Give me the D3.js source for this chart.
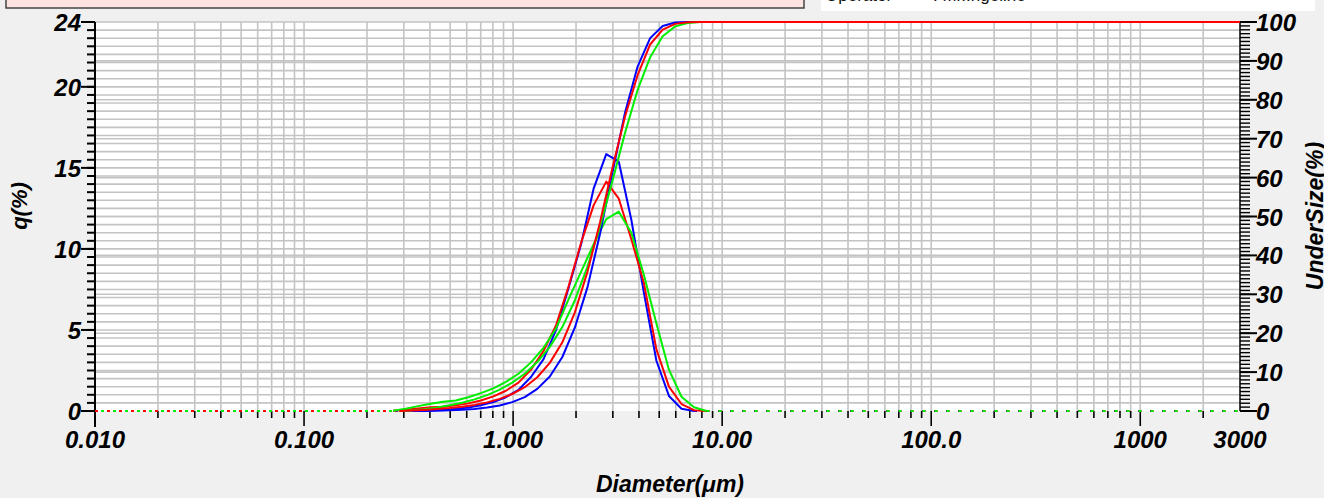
<!DOCTYPE html>
<html>
<head>
<meta charset="utf-8">
<script src="https://cdn.jsdelivr.net/npm/d3@7"></script>
<style>
  html, body { margin: 0; padding: 0; background: #f0f0f0; }
  svg { display: block; }
  text { font-family: "Liberation Sans", Arial, Helvetica, sans-serif; }
</style>
</head>
<body>
<svg id="chart" width="1324" height="498"></svg>
<script>
// ---- data ----
// bin centre diameters (µm) for the frequency curves q(%)
const diameters = [0.2321, 0.2665, 0.3060, 0.3513, 0.4034, 0.4631, 0.5318, 0.6105, 0.7010, 0.8048,
  0.9240, 1.0609, 1.2180, 1.3984, 1.6056, 1.8434, 2.1164, 2.4299, 2.7898, 3.2030,
  3.6774, 4.2221, 4.8475, 5.5655, 6.3899, 7.3363, 8.4230, 9.6706];
// bin upper edges (µm) for the cumulative curves UnderSize(%)
const edges = [0.2487, 0.2856, 0.3279, 0.3764, 0.4322, 0.4962, 0.5698, 0.6542, 0.7511, 0.8624,
  0.9901, 1.1368, 1.3051, 1.4984, 1.7204, 1.9752, 2.2677, 2.6037, 2.9893, 3.4321,
  3.9404, 4.5240, 5.1942, 5.9635, 6.8468, 7.8608, 9.0253, 10.362];

const qBlue  = [null, null, 0, 0.03, 0.05, 0.09, 0.14, 0.22, 0.35, 0.55,
  0.85, 1.3, 2.1, 3.2, 5.0, 7.6, 10.3, 13.74, 15.85, 15.38,
  11.8, 7.3, 3.1, 0.93, 0.14, 0, null, null];
const qRed   = [null, 0.02, 0.08, 0.16, 0.23, 0.26, 0.35, 0.47, 0.65, 0.9,
  1.25, 1.75, 2.55, 3.7, 5.3, 7.7, 10.4, 12.7, 14.15, 13.1,
  10.6, 7.9, 3.8, 1.5, 0.43, 0.05, 0, null];
const qGreen = [null, 0.02, 0.14, 0.3, 0.45, 0.57, 0.65, 0.85, 1.1, 1.4,
  1.8, 2.3, 3.0, 3.9, 5.1, 6.9, 8.6, 10.3, 11.84, 12.3,
  11.0, 8.4, 5.4, 2.55, 0.88, 0.23, 0, null];

const cumBlue  = [null, null, 0, 0.03, 0.08, 0.17, 0.31, 0.53, 0.88, 1.43,
  2.28, 3.58, 5.68, 8.88, 13.88, 21.48, 31.78, 45.52, 61.37, 76.75,
  88.55, 95.85, 98.95, 99.88, 100, 100, 100, 100];
const cumRed   = [null, 0.02, 0.10, 0.26, 0.49, 0.75, 1.10, 1.57, 2.22, 3.12,
  4.37, 6.12, 8.67, 12.37, 17.67, 25.37, 35.77, 48.47, 62.62, 75.72,
  86.32, 94.22, 98.02, 99.52, 99.95, 100, 100, 100];
const cumGreen = [null, 0.02, 0.16, 0.46, 0.91, 1.48, 2.13, 2.98, 4.08, 5.48,
  7.28, 9.58, 12.58, 16.48, 21.58, 28.48, 37.08, 47.38, 59.22, 71.52,
  82.52, 90.92, 96.32, 98.87, 99.75, 99.98, 100, 100];

const xTickValues = [0.01, 0.1, 1, 10, 100, 1000, 3000];
const xTickLabels = ["0.010", "0.100", "1.000", "10.00", "100.0", "1000", "3000"];
const leftTicks = [0, 5, 10, 15, 20, 24];
const rightTicks = [0, 10, 20, 30, 40, 50, 60, 70, 80, 90, 100];

const colors = { blue: "#0000ff", red: "#ff0000", green: "#00ee00" };

// ---- layout ----
const svg = d3.select("#chart");
const W = 1324, H = 498;
const L = 95, R = 1240, T = 22, B = 411;

const x = d3.scaleLog().domain([0.01, 3000]).range([L, R]);
const yL = d3.scaleLinear().domain([0, 24]).range([B, T]);
const yR = d3.scaleLinear().domain([0, 100]).range([B, T]);

svg.append("rect").attr("width", W).attr("height", H).attr("fill", "#f0f0f0");

// header boxes (cut off at the top)
svg.append("rect").attr("x", 6).attr("y", -20).attr("width", 798).attr("height", 28)
  .attr("fill", "#fde3e1").attr("stroke", "#444").attr("stroke-width", 1.5);
svg.append("rect").attr("x", 821).attr("y", -20).attr("width", 494).attr("height", 31)
  .attr("fill", "#ffffff");
svg.append("text").attr("x", 825).attr("y", 1).attr("font-size", 17).attr("fill", "#111").text("Operator");
svg.append("text").attr("x", 933).attr("y", 1).attr("font-size", 17).attr("fill", "#111").text(": Mr.Ingeline");

// plot area
svg.append("rect").attr("x", L).attr("y", T).attr("width", R - L).attr("height", B - T).attr("fill", "#fff");

const grid = svg.append("g").attr("stroke", "#c4c4c4").attr("stroke-width", 1.6);
// vertical grid: 1..9 per decade
const vGrid = [];
for (let e = -2; e <= 3; e++) for (let m = 1; m <= 9; m++) {
  const v = m * Math.pow(10, e);
  if (v > 0.01 && v < 3000) vGrid.push(v);
}
grid.selectAll("line.v").data(vGrid).join("line")
  .attr("x1", d => x(d)).attr("x2", d => x(d)).attr("y1", T).attr("y2", B);
// horizontal grid: every 0.5 on q axis, plus every 10 on undersize axis
grid.selectAll("line.h").data(d3.range(0.5, 24.01, 0.5)).join("line")
  .attr("x1", L).attr("x2", R).attr("y1", d => yL(d)).attr("y2", d => yL(d));
grid.append("g").selectAll("line").data(d3.range(10, 100, 10)).join("line")
  .attr("x1", L).attr("x2", R).attr("y1", d => yR(d)).attr("y2", d => yR(d));

const fontAxis = g => g.attr("font-weight", "bold").attr("font-style", "italic").attr("fill", "#000");

// x axis ticks
const xa = svg.append("g").attr("stroke", "#000").attr("stroke-width", 1.6);
const xMinor = [];
for (let e = -2; e <= 3; e++) for (let m = 2; m <= 9; m++) {
  const v = m * Math.pow(10, e);
  if (v < 3000) xMinor.push(v);
}
xa.selectAll("line.mi").data(xMinor).join("line")
  .attr("x1", d => x(d)).attr("x2", d => x(d)).attr("y1", B).attr("y2", B + 7);
xa.append("g").selectAll("line").data([0.1, 1, 10, 100, 1000]).join("line")
  .attr("x1", d => x(d)).attr("x2", d => x(d)).attr("y1", B).attr("y2", B + 15);
svg.append("g").call(fontAxis).attr("font-size", 24).attr("text-anchor", "middle")
  .selectAll("text").data(xTickValues).join("text")
  .attr("x", d => x(d)).attr("y", 448).text((d, i) => xTickLabels[i]);

// left axis
const la = svg.append("g").attr("stroke", "#000");
la.append("line").attr("x1", L).attr("x2", L).attr("y1", T).attr("y2", B + 16).attr("stroke-width", 2);
la.selectAll("line.mi").data(d3.range(0, 24.01, 0.5)).join("line")
  .attr("x1", L - 8).attr("x2", L).attr("y1", d => yL(d)).attr("y2", d => yL(d)).attr("stroke-width", 2);
la.append("g").selectAll("line").data(leftTicks).join("line")
  .attr("x1", L - 14).attr("x2", L).attr("y1", d => yL(d)).attr("y2", d => yL(d)).attr("stroke-width", 2);
svg.append("g").call(fontAxis).attr("font-size", 24).attr("text-anchor", "end")
  .selectAll("text").data(leftTicks).join("text")
  .attr("x", L - 14).attr("y", d => yL(d) + 9).text(d => d);

// right axis
const ra = svg.append("g").attr("stroke", "#000");
ra.append("line").attr("x1", R).attr("x2", R).attr("y1", T).attr("y2", B).attr("stroke-width", 1.5);
ra.selectAll("line.mi").data(d3.range(0, 100.01, 1)).join("line")
  .attr("x1", R).attr("x2", R + 10).attr("y1", d => yR(d)).attr("y2", d => yR(d)).attr("stroke-width", 1.4);
ra.append("g").selectAll("line").data(rightTicks).join("line")
  .attr("x1", R).attr("x2", R + 17).attr("y1", d => yR(d)).attr("y2", d => yR(d)).attr("stroke-width", 2);
svg.append("g").call(fontAxis).attr("font-size", 24).attr("text-anchor", "start")
  .selectAll("text").data(rightTicks).join("text")
  .attr("x", R + 16).attr("y", d => yR(d) + 9).text(d => d);

// axis titles
svg.append("text").call(fontAxis).attr("font-size", 22).attr("text-anchor", "middle")
  .attr("transform", "translate(27,206) rotate(-90)").text("q(%)");
svg.append("text").call(fontAxis).attr("font-size", 23).attr("text-anchor", "middle")
  .attr("transform", "translate(1323,216) rotate(-90)").text("UnderSize(%)");
svg.append("text").call(fontAxis).attr("font-size", 23).attr("text-anchor", "middle")
  .attr("x", 670).attr("y", 492).text("Diameter(μm)");

// ---- curves ----
const plot = svg.append("g");
const series = [
  { q: qBlue,  c: cumBlue,  col: colors.blue,  leftOff: 0 },
  { q: qRed,   c: cumRed,   col: colors.red,   leftOff: 0 },
  { q: qGreen, c: cumGreen, col: colors.green, leftOff: -6 }
];

// dotted zero lines outside the measured range
series.forEach(s => {
  const idx = s.q.map((v, i) => v == null ? null : i).filter(i => i != null);
  const first = diameters[idx[0]], last = diameters[idx[idx.length - 1]];
  plot.append("line").attr("x1", x(0.01)).attr("x2", x(first)).attr("y1", yL(0)).attr("y2", yL(0))
    .attr("stroke", s.col).attr("stroke-width", 2).attr("stroke-dasharray", "3,9")
    .attr("stroke-dashoffset", s.leftOff);
  plot.append("line").attr("x1", x(last)).attr("x2", x(3000)).attr("y1", yL(0)).attr("y2", yL(0))
    .attr("stroke", s.col).attr("stroke-width", 2).attr("stroke-dasharray", "3,9")
    .attr("stroke-dashoffset", 0);
});

const qLine = d3.line().defined(d => d.v != null).x(d => x(d.d)).y(d => yL(d.v));
series.forEach(s => {
  const pts = s.q.map((v, i) => ({ d: diameters[i], v }));
  plot.append("path").attr("d", qLine(pts)).attr("fill", "none")
    .attr("stroke", s.col).attr("stroke-width", 2).attr("stroke-linejoin", "round");
});

const cLine = d3.line().defined(d => d.v != null).x(d => x(d.d)).y(d => yR(d.v));
[series[0], series[2], series[1]].forEach(s => {
  const pts = s.c.map((v, i) => ({ d: edges[i], v }));
  pts.push({ d: 3000, v: s.c[s.c.length - 1] });
  plot.append("path").attr("d", cLine(pts)).attr("fill", "none")
    .attr("stroke", s.col).attr("stroke-width", 2).attr("stroke-linejoin", "round");
});
</script>
</body>
</html>
